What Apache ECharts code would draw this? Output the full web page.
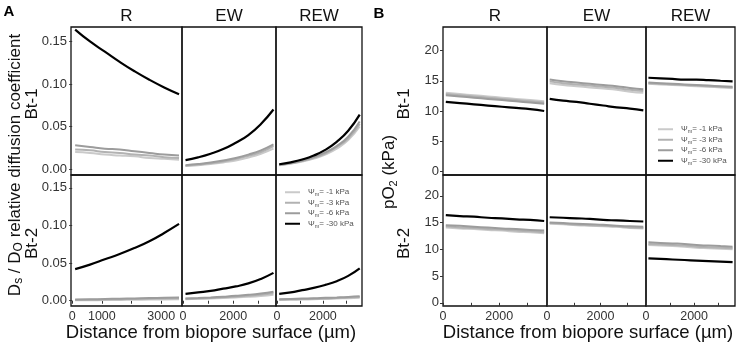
<!DOCTYPE html>
<html>
<head>
<meta charset="utf-8">
<script src="https://cdn.jsdelivr.net/npm/echarts@6/dist/echarts.min.js"></script>
<style>
  html, body { margin: 0; padding: 0; background: #fff; }
  #chart { width: 743px; height: 347px; }
</style>
</head>
<body>
<div id="chart"></div>
<script>
  // distance from biopore surface (µm)
  var distance = [100, 600, 1100, 1600, 2100, 2600, 3100, 3600];
  // matric potentials, order: -1, -3, -6, -30 kPa
  var potentials = ['-1', '-3', '-6', '-30'];
  var lineColors = ['#cacaca', '#b2b2b2', '#9c9c9c', '#000000'];
  var facetNames = ['R', 'EW', 'REW'];
  var rowNames = ['Bt-1', 'Bt-2'];

  // A: Ds/Do relative diffusion coefficient
  var dsBt1R = [
    [0.020, 0.019, 0.017, 0.016, 0.015, 0.013, 0.012, 0.011],
    [0.023, 0.022, 0.020, 0.019, 0.017, 0.016, 0.014, 0.013],
    [0.028, 0.026, 0.024, 0.023, 0.021, 0.019, 0.017, 0.016],
    [0.164, 0.150, 0.138, 0.126, 0.115, 0.105, 0.096, 0.088]
  ];
  var dsBt1EW = [
    [0.0035, 0.0046, 0.0060, 0.0078, 0.0100, 0.0135, 0.018, 0.024],
    [0.0040, 0.0052, 0.0068, 0.0090, 0.0118, 0.0155, 0.020, 0.027],
    [0.0045, 0.0058, 0.0076, 0.0100, 0.0130, 0.0170, 0.022, 0.029],
    [0.0105, 0.0137, 0.0180, 0.0235, 0.0310, 0.0400, 0.053, 0.070]
  ];
  var dsBt1REW = [
    [0.0045, 0.0063, 0.0088, 0.0123, 0.0170, 0.024, 0.034, 0.050],
    [0.0048, 0.0067, 0.0094, 0.0130, 0.0183, 0.026, 0.036, 0.053],
    [0.0050, 0.0070, 0.0099, 0.0140, 0.0195, 0.027, 0.038, 0.056],
    [0.0056, 0.0079, 0.0112, 0.0159, 0.0225, 0.032, 0.045, 0.064]
  ];
  var dsBt2R = [
    [0.0005, 0.0007, 0.0009, 0.0011, 0.0013, 0.0015, 0.0017, 0.0020],
    [0.0010, 0.0013, 0.0016, 0.0020, 0.0023, 0.0027, 0.0030, 0.0034],
    [0.0015, 0.0019, 0.0023, 0.0027, 0.0031, 0.0035, 0.0039, 0.0044],
    [0.042, 0.048, 0.055, 0.062, 0.070, 0.079, 0.090, 0.102]
  ];
  var dsBt2EW = [
    [0.0020, 0.0025, 0.0030, 0.0036, 0.0043, 0.0052, 0.0064, 0.0080],
    [0.0025, 0.0030, 0.0037, 0.0045, 0.0054, 0.0065, 0.0080, 0.0100],
    [0.0030, 0.0036, 0.0044, 0.0054, 0.0065, 0.0079, 0.0097, 0.0120],
    [0.009, 0.011, 0.013, 0.016, 0.019, 0.023, 0.029, 0.037]
  ];
  var dsBt2REW = [
    [0.0010, 0.0013, 0.0016, 0.0020, 0.0024, 0.0029, 0.0034, 0.0040],
    [0.0015, 0.0018, 0.0022, 0.0026, 0.0030, 0.0036, 0.0042, 0.0050],
    [0.0020, 0.0024, 0.0028, 0.0032, 0.0038, 0.0044, 0.0051, 0.0060],
    [0.009, 0.011, 0.014, 0.017, 0.021, 0.026, 0.033, 0.043]
  ];

  // B: pO2 (kPa)
  var poBt1R = [
    [13.0, 12.8, 12.6, 12.4, 12.2, 12.0, 11.8, 11.6],
    [12.8, 12.6, 12.4, 12.2, 12.0, 11.8, 11.6, 11.4],
    [12.6, 12.4, 12.2, 12.0, 11.8, 11.6, 11.4, 11.2],
    [11.5, 11.3, 11.1, 10.9, 10.7, 10.5, 10.3, 10.0]
  ];
  var poBt1EW = [
    [14.6, 14.3, 14.1, 13.9, 13.7, 13.5, 13.2, 13.0],
    [14.9, 14.6, 14.4, 14.2, 14.0, 13.8, 13.5, 13.3],
    [15.2, 14.9, 14.7, 14.5, 14.3, 14.1, 13.8, 13.6],
    [12.0, 11.7, 11.5, 11.2, 10.9, 10.6, 10.4, 10.1]
  ];
  var poBt1REW = [
    [14.5, 14.4, 14.3, 14.2, 14.1, 14.0, 13.9, 13.8],
    [14.6, 14.5, 14.4, 14.3, 14.2, 14.1, 14.0, 13.9],
    [14.7, 14.6, 14.5, 14.4, 14.3, 14.2, 14.1, 14.0],
    [15.5, 15.4, 15.3, 15.2, 15.2, 15.1, 15.0, 14.9]
  ];
  var poBt2R = [
    [14.1, 13.9, 13.8, 13.6, 13.5, 13.3, 13.2, 13.0],
    [14.3, 14.1, 14.0, 13.8, 13.7, 13.5, 13.4, 13.2],
    [14.5, 14.4, 14.2, 14.1, 13.9, 13.8, 13.6, 13.5],
    [16.4, 16.2, 16.1, 15.9, 15.8, 15.6, 15.5, 15.3]
  ];
  var poBt2EW = [
    [14.8, 14.7, 14.5, 14.4, 14.3, 14.2, 14.0, 13.9],
    [14.9, 14.8, 14.6, 14.5, 14.4, 14.3, 14.1, 14.0],
    [15.0, 14.9, 14.8, 14.7, 14.6, 14.4, 14.3, 14.2],
    [16.0, 15.9, 15.8, 15.7, 15.5, 15.4, 15.3, 15.2]
  ];
  var poBt2REW = [
    [10.8, 10.7, 10.6, 10.5, 10.3, 10.2, 10.1, 10.0],
    [11.0, 10.9, 10.8, 10.7, 10.5, 10.4, 10.3, 10.2],
    [11.3, 11.2, 11.1, 11.0, 10.8, 10.7, 10.6, 10.5],
    [8.3, 8.2, 8.1, 8.0, 7.9, 7.8, 7.7, 7.6]
  ];

  var dsTicks = [0, 0.05, 0.10, 0.15];
  var poTicks = [0, 5, 10, 15, 20];
  var distTicks = [0, 1000, 2000, 3000];

  var FONT = '"Liberation Sans", Arial, sans-serif';

  // panel layout (px)
  var panels = [
    {
      data: [[dsBt1R, dsBt1EW, dsBt1REW], [dsBt2R, dsBt2EW, dsBt2REW]],
      cols: [[71, 182], [182, 276], [276, 362]],
      xMin: -40, xMax: 3700, yMin: -0.007, yMax: 0.167,
      yTicks: dsTicks, yFmt: function (v) { return v.toFixed(2); },
      xLabels: [[0, 1000, 3000], [0, 2000], [0, 2000]]
    },
    {
      data: [[poBt1R, poBt1EW, poBt1REW], [poBt2R, poBt2EW, poBt2REW]],
      cols: [[443, 547], [547, 646], [646, 735]],
      xMin: 0, xMax: 3700, yMin: -0.6, yMax: 23.9,
      yTicks: poTicks, yFmt: function (v) { return String(v); },
      xLabels: [[0, 2000], [0, 2000], [0, 2000]]
    }
  ];
  var rows = [[27, 175], [175, 306]];

  var grid = [], xAxis = [], yAxis = [], series = [];

  panels.forEach(function (p) {
    rows.forEach(function (r, ri) {
      p.cols.forEach(function (c, ci) {
        var idx = grid.length;
        grid.push({
          left: c[0], top: r[0], width: c[1] - c[0], height: r[1] - r[0],
          show: true, borderColor: '#111', borderWidth: 1.3, backgroundColor: 'transparent'
        });
        xAxis.push({
          type: 'value', gridIndex: idx, min: p.xMin, max: p.xMax,
          axisLine: {show: false},
          splitLine: {show: false},
          axisTick: {show: ri === 1, customValues: distTicks, length: 3, lineStyle: {color: '#333', width: 1}},
          axisLabel: {
            show: ri === 1, customValues: p.xLabels[ci], color: '#333', fontSize: 12.5, fontFamily: FONT, margin: 4,
            formatter: function (v) { return String(v); }
          }
        });
        yAxis.push({
          type: 'value', gridIndex: idx, min: p.yMin, max: p.yMax,
          axisLine: {show: false},
          splitLine: {show: false},
          axisTick: {show: ci === 0, customValues: p.yTicks, length: 3, lineStyle: {color: '#333', width: 1}},
          axisLabel: {show: ci === 0, customValues: p.yTicks, formatter: p.yFmt, color: '#333', fontSize: 13, fontFamily: FONT, margin: 4}
        });
        p.data[ri][ci].forEach(function (vals, k) {
          series.push({
            type: 'line', name: potentials[k],
            xAxisIndex: idx, yAxisIndex: idx,
            smooth: true, showSymbol: false, silent: true,
            data: distance.map(function (d, j) { return [d, vals[j]]; }),
            itemStyle: {color: lineColors[k]},
            lineStyle: {color: lineColors[k], width: k === 3 ? 2.2 : 2}
          });
        });
      });
    });
  });

  function legendAt(left, top) {
    return {
      left: left, top: top, orient: 'vertical', padding: 0,
      data: potentials, selectedMode: false,
      icon: 'rect', itemWidth: 15, itemHeight: 2, itemGap: 0,
      formatter: function (name) { return '{t|Ψ}{s|m}{t|= ' + name + ' kPa}'; },
      textStyle: {
        fontFamily: FONT, color: '#555', fontSize: 8, lineHeight: 10.5, padding: [0, 0, 0, 3],
        rich: {
          t: {fontFamily: FONT, color: '#555', fontSize: 8, lineHeight: 10.5},
          s: {fontFamily: FONT, color: '#555', fontSize: 5.5, lineHeight: 10.5, verticalAlign: 'bottom', padding: [3, 0, 0, 0]}
        }
      }
    };
  }

  var graphic = [];
  function addText(x, y, text, opts) {
    graphic.push(Object.assign({
      type: 'text', x: x, y: y, silent: true,
      style: Object.assign({
        text: text, fill: '#111', fontFamily: FONT, fontSize: 17,
        align: 'center', verticalAlign: 'middle'
      }, opts && opts.style)
    }, opts && opts.rotation ? {rotation: opts.rotation} : {}));
  }

  // strips
  panels.forEach(function (p) {
    p.cols.forEach(function (c, ci) {
      addText((c[0] + c[1]) / 2, 16, facetNames[ci]);
    });
  });
  // row labels
  [32, 404].forEach(function (x) {
    rows.forEach(function (r, ri) {
      addText(x, (r[0] + r[1]) / 2 + 3, rowNames[ri], {rotation: Math.PI / 2});
    });
  });
  // panel letters
  addText(9, 12, 'A', {style: {fontWeight: 'bold', fontSize: 15, fill: '#000'}});
  addText(379, 14, 'B', {style: {fontWeight: 'bold', fontSize: 15, fill: '#000'}});
  // x titles
  addText(211, 333, 'Distance from biopore surface (µm)', {style: {fontSize: 18.5}});
  addText(588, 333, 'Distance from biopore surface (µm)', {style: {fontSize: 18.5}});
  // y titles
  addText(15, 165, '{a|D}{s|s}{a| / D}{s|O}{a| relative diffusion coefficient}', {
    rotation: Math.PI / 2,
    style: {
      rich: {
        a: {fontFamily: FONT, fontSize: 17, fill: '#111', lineHeight: 20},
        s: {fontFamily: FONT, fontSize: 12, fill: '#111', lineHeight: 20, verticalAlign: 'bottom', padding: [6, 0, 0, 0]}
      }
    }
  });
  addText(389, 172, '{a|pO}{s|2}{a| (kPa)}', {
    rotation: Math.PI / 2,
    style: {
      rich: {
        a: {fontFamily: FONT, fontSize: 17, fill: '#111', lineHeight: 20},
        s: {fontFamily: FONT, fontSize: 11, fill: '#111', lineHeight: 20, verticalAlign: 'bottom', padding: [6, 0, 0, 0]}
      }
    }
  });

  var chart = echarts.init(document.getElementById('chart'));
  chart.setOption({
    backgroundColor: '#fff',
    animation: false,
    grid: grid,
    xAxis: xAxis,
    yAxis: yAxis,
    legend: [legendAt(285, 187), legendAt(658, 124)],
    graphic: graphic,
    series: series
  });
</script>
</body>
</html>
